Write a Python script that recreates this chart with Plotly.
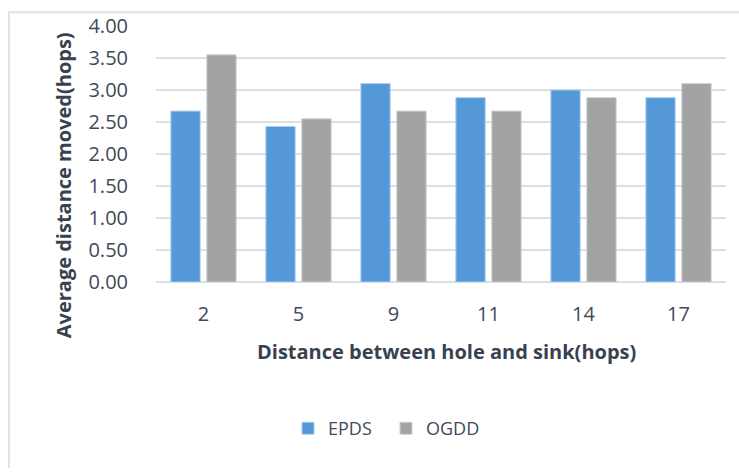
import plotly.graph_objects as go

categories = ["2", "5", "9", "11", "14", "17"]
epds = [2.67, 2.43, 3.10, 2.88, 3.00, 2.88]
ogdd = [3.55, 2.55, 2.67, 2.67, 2.88, 3.10]
series_names = ["EPDS", "OGDD"]
y_ticks = [0, 0.5, 1, 1.5, 2, 2.5, 3, 3.5, 4]

FONT = "Open Sans"
TXT = "#3f4959"

fig = go.Figure()
fig.add_trace(go.Bar(x=categories, y=epds, name=series_names[0],
                     marker=dict(color="#5598d8", line=dict(color="#a9cdf0", width=1))))
fig.add_trace(go.Bar(x=categories, y=ogdd, name=series_names[1],
                     marker=dict(color="#a3a3a3", line=dict(color="#cfcfcf", width=1))))

L, R, T, B = 156, 13, 20, 190
W, H = 739, 472
pw, ph = W - L - R, H - T - B

def px(x):
    return (x - L) / pw

def py(y):
    return (H - B - y) / ph

fig.update_layout(
    width=W, height=H,
    margin=dict(l=L, r=R, t=T, b=B),
    paper_bgcolor="white", plot_bgcolor="white",
    barmode="group", bargap=0.243, bargroupgap=0.186,
    font=dict(family=FONT, color=TXT),
    showlegend=True,
    legend=dict(orientation="h", x=px(386), y=py(432), xanchor="center", yanchor="middle",
                font=dict(size=18, family=FONT, color=TXT),
                entrywidth=53, entrywidthmode="pixels",
                traceorder="normal"),
    xaxis=dict(showgrid=False, showline=False, ticks="", zeroline=False,
               tickfont=dict(size=20, family=FONT, color=TXT), ticklabelstandoff=18),
    yaxis=dict(range=[0, 4], tickvals=y_ticks, tickformat=".2f",
               showgrid=True, gridcolor="#dadee6", gridwidth=2,
               zeroline=True, zerolinecolor="#dadee6", zerolinewidth=2,
               showline=False, ticks="",
               tickfont=dict(size=20, family=FONT, color=TXT), ticklabelstandoff=27),
    annotations=[
        dict(text="<b>Average distance moved(hops)</b>", xref="paper", yref="paper",
             x=px(63), y=py(183), textangle=-90, showarrow=False,
             font=dict(size=20, family=FONT, color="#38424f"),
             xanchor="center", yanchor="middle"),
        dict(text="<b>Distance between hole and sink(hops)</b>", xref="paper", yref="paper",
             x=px(446), y=py(353), showarrow=False,
             font=dict(size=20, family=FONT, color="#38424f"),
             xanchor="center", yanchor="middle"),
    ],
    shapes=[
        dict(type="line", xref="paper", yref="paper", x0=px(8), x1=px(739), y0=py(6), y1=py(6),
             line=dict(color="#dfe3ea", width=2)),
        dict(type="line", xref="paper", yref="paper", x0=px(9), x1=px(9), y0=py(6), y1=py(472),
             line=dict(color="#dfe3ea", width=2)),
    ],
)

fig.write_html("out.html", config={"displayModeBar": False},
               post_script="document.body.style.margin='0';document.body.style.overflow='hidden';")
